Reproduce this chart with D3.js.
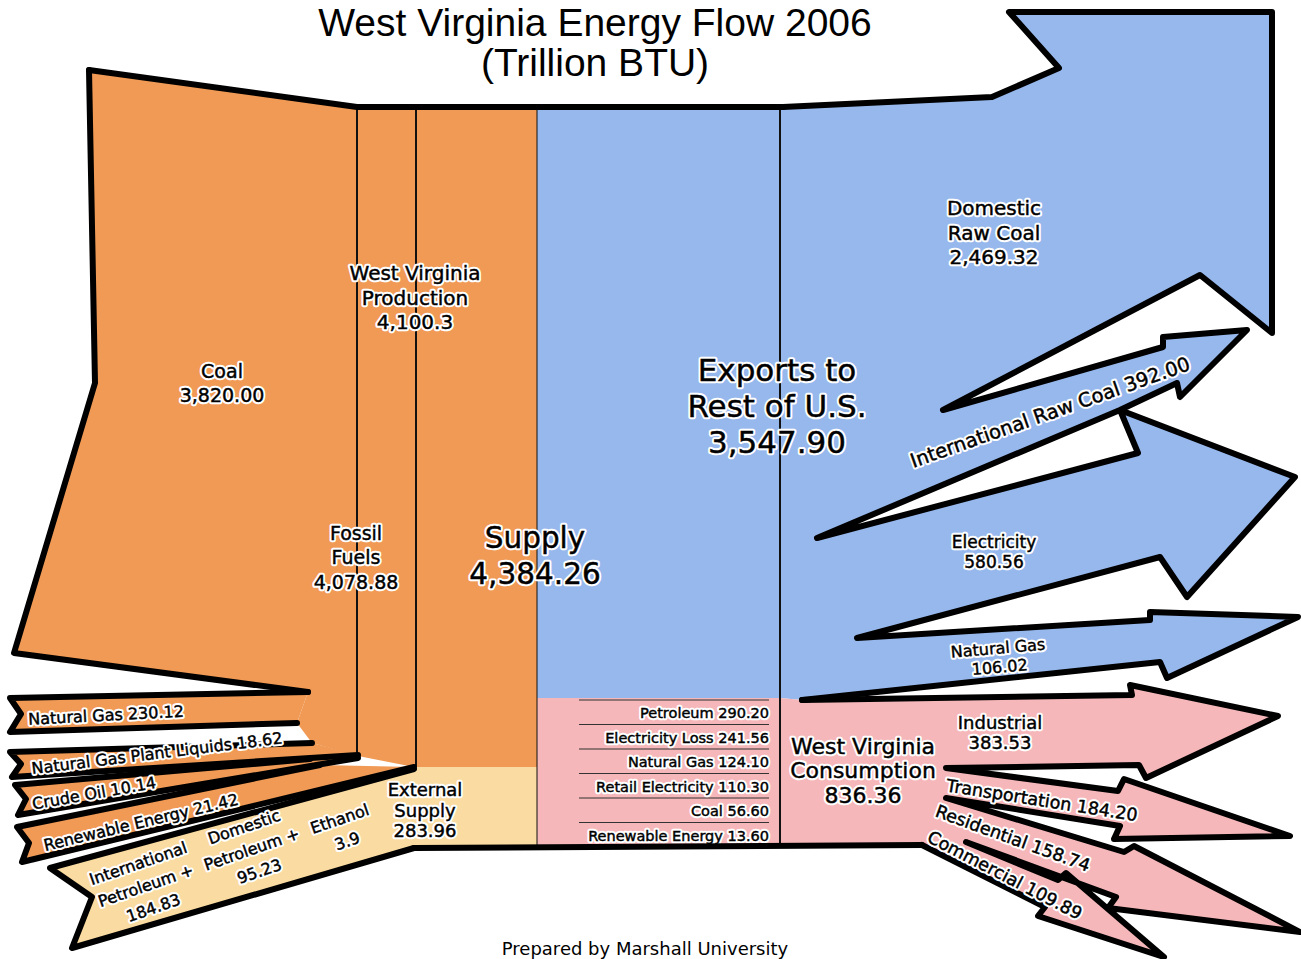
<!DOCTYPE html>
<html>
<head>
<meta charset="utf-8">
<script src="https://cdn.jsdelivr.net/npm/d3@7"></script>
<style>
  body { margin: 0; background: #fff; }
  .halo { font-family: "DejaVu Sans", sans-serif; fill: #fff; stroke: #fff; stroke-width: 4.5px;
          stroke-linejoin: round; }
  .lbl { font-family: "DejaVu Sans", sans-serif; fill: #000; stroke: #000; stroke-width: 0.45px; }
  .title { font-family: "Liberation Sans", Arial, sans-serif; font-size: 39px; fill: #000; }
</style>
</head>
<body>
<div id="chart"></div>
<script>
// ---- data (Trillion BTU) ----
const supplyNames = ['Coal', 'Natural Gas', 'Natural Gas Plant Liquids', 'Crude Oil', 'Renewable Energy']
const supplyValues = [3820.00, 230.12, 18.62, 10.14, 21.42]
const externalNames = [['International', 'Petroleum +'], ['Domestic', 'Petroleum +'], ['', 'Ethanol']]
const externalValues = [184.83, 95.23, 3.9]
const exportNames = ['Domestic Raw Coal', 'International Raw Coal', 'Electricity', 'Natural Gas']
const exportValues = [2469.32, 392.00, 580.56, 106.02]
const sourceNames = ['Petroleum', 'Electricity Loss', 'Natural Gas', 'Retail Electricity', 'Coal', 'Renewable Energy']
const sourceValues = [290.20, 241.56, 124.10, 110.30, 56.60, 13.60]
const sectorNames = ['Industrial', 'Transportation', 'Residential', 'Commercial']
const sectorValues = [383.53, 184.20, 158.74, 109.89]

const fossil = d3.sum(supplyValues.slice(0, 4))
const production = d3.sum(supplyValues)
const external = d3.sum(externalValues)
const supply = production + external
const exportsTotal = d3.sum(exportValues)
const consumption = d3.sum(sectorValues)

const f2 = d3.format(',.2f')
const fShort = d3.format(',.2~f')

const width = 1301, height = 959
const colors = {orange: '#f09a55', yellow: '#fadca2', blue: '#97b8ec', pink: '#f5b7b9'}

const svg = d3.select('#chart').append('svg')
  .attr('width', width).attr('height', height)

const line = d3.line()
const closed = d3.line().curve(d3.curveLinearClosed)

// ---- artwork outlines (hand drawn shapes of the original) ----
const coalLeft = [[89,70],[95,383],[14,653],[308,692]]
const bodyOrange = [[89,70],[357,107],[537,107],[537,767],[414,767],[358,756],[312,743],[297,723],[308,692],[14,653],[95,383]]
// tails: top-right, top-left, notch, bottom-left, bottom-right
const tails = [
  [[308,692],[10,698],[21,714],[10,732],[297,723]],
  [[312,743],[10,752],[21,764],[12,777],[358,755]],
  [[310,759],[15,785],[26,799],[18,815],[358,758]],
  [[320,765],[17,827],[29,843],[22,862],[414,767]],
]
const yellowTail = [[414,769],[50,868],[92,897],[72,948],[414,848]]
const blueEdge = [[783,107],[992,97],[1059,68],[1009,12],[1272,12],[1272,333],[1200,275],[943,410],
  [1163,347],[1163,337],[1247,330],[1180,397],[1177,383],[1120,410],[817,538],[1138,453],[1120,410],
  [1295,477],[1187,597],[1160,557],[857,638],[1150,620],[1150,612],[1298,617],[1167,678],[1160,662],[802,700]]
const pinkEdge = [[802,700],[1132,695],[1130,685],[1278,716],[1146,778],[1139,765],[946,768],
  [1118,791],[1124,779],[1290,836],[1114,839],[1120,826],[946,798],[1124,852],[1134,846],[1300,932],
  [1108,908],[1116,897],[966,842],[1058,880],[1066,873],[1164,957],[1038,916],[1045,907],[922,845]]

// fills
svg.append('path').attr('d', closed(bodyOrange)).attr('fill', colors.orange)
svg.selectAll('.tail').data(tails).enter().append('path')
  .attr('class', 'tail').attr('d', d => closed(d)).attr('fill', colors.orange)
svg.append('path').attr('d', closed(yellowTail)).attr('fill', colors.yellow)
svg.append('rect').attr('x', 414).attr('y', 767).attr('width', 123).attr('height', 78).attr('fill', colors.yellow)
svg.append('path').attr('d', closed([[537,107]].concat(blueEdge, [[780,698],[537,698]]))).attr('fill', colors.blue)
svg.append('path').attr('d', closed([[537,698],[780,698]].concat(pinkEdge, [[537,845]]))).attr('fill', colors.pink)

// thin divider lines
const dividers = [[357,107,357,756],[416,107,416,767],[537,107,537,845],[780,107,780,845]]
svg.selectAll('.div').data(dividers).enter().append('line')
  .attr('x1', d => d[0]).attr('y1', d => d[1]).attr('x2', d => d[2]).attr('y2', d => d[3])
  .attr('stroke', '#111').attr('stroke-width', d => d[0] === 537 ? 1 : 2)

// consumption by source rows
const rowY = d3.scaleBand().domain(sourceNames).range([698, 845])
svg.selectAll('.srcline').data(sourceNames).enter().append('line')
  .attr('x1', 579).attr('x2', 769)
  .attr('y1', d => rowY(d) + 2).attr('y2', d => rowY(d) + 2)
  .attr('stroke', '#333').attr('stroke-width', 1.2)

// halo text helper: white outline underneath, black text on top
function haloText(sel, fn) {
  ['halo', 'lbl'].forEach(cls => fn(sel.append('text').attr('class', cls)))
}

sourceNames.forEach((d, i) => haloText(svg, t => t
  .style('font-size', '14.5px').attr('x', 769).attr('y', rowY(d) + 20)
  .attr('text-anchor', 'end').text(d + ' ' + f2(sourceValues[i]))))

// thick outlines
const outlines = [coalLeft, [[89,70],[357,107],[783,107]], blueEdge, pinkEdge, [[922,845],[414,848]]]
  .concat(tails, [yellowTail])
svg.selectAll('.outline').data(outlines).enter().append('path')
  .attr('d', d => line(d)).attr('fill', 'none')
  .attr('stroke', '#000').attr('stroke-width', 6)
  .attr('stroke-linejoin', 'round').attr('stroke-linecap', 'round')

// ---- labels ----
const labels = [
  {lines: [supplyNames[0], f2(supplyValues[0])], x: 222, y: 371, lh: 24, size: 19},
  {lines: ['West Virginia', 'Production', fShort(production)], x: 415, y: 273, lh: 24.5, size: 20},
  {lines: ['Fossil', 'Fuels', f2(fossil)], x: 356, y: 533, lh: 24.5, size: 19},
  {lines: ['Supply', f2(supply)], x: 535, y: 537, lh: 36, size: 29.5},
  {lines: ['Exports to', 'Rest of U.S.', f2(exportsTotal)], x: 777, y: 370, lh: 36, size: 31},
  {lines: ['Domestic', 'Raw Coal', f2(exportValues[0])], x: 994, y: 208, lh: 24.5, size: 20},
  {lines: [exportNames[2], f2(exportValues[2])], x: 994, y: 542, lh: 20, size: 17},
  {lines: [exportNames[3], f2(exportValues[3])], x: 998, y: 648, lh: 19, size: 16, rot: -5},
  {lines: [sectorNames[0], f2(sectorValues[0])], x: 1000, y: 723, lh: 20, size: 18},
  {lines: ['West Virginia', 'Consumption', f2(consumption)], x: 863, y: 746, lh: 24.5, size: 22},
  {lines: ['External', 'Supply', f2(external)], x: 425, y: 790, lh: 20.5, size: 18},
  {lines: [exportNames[1] + ' ' + f2(exportValues[1])], x: 1050, y: 412, size: 19.5, rot: -19.5},
  {lines: [sectorNames[1] + ' ' + f2(sectorValues[1])], x: 1042, y: 800, size: 17.5, rot: 9},
  {lines: [sectorNames[2] + ' ' + f2(sectorValues[2])], x: 1013, y: 838, size: 17.5, rot: 20},
  {lines: [sectorNames[3] + ' ' + f2(sectorValues[3])], x: 1005, y: 875, size: 17.5, rot: 27.5},
  {lines: [supplyNames[1] + ' ' + f2(supplyValues[1])], x: 106, y: 715, size: 16, rot: -3},
  {lines: [supplyNames[2] + ' ' + f2(supplyValues[2])], x: 157, y: 753, size: 16, rot: -7},
  {lines: [supplyNames[3] + ' ' + f2(supplyValues[3])], x: 94, y: 793, size: 16, rot: -10},
  {lines: [supplyNames[4] + ' ' + f2(supplyValues[4])], x: 141, y: 822, size: 16, rot: -13.5},
]

labels.forEach(d => {
  const g = svg.append('g').attr('transform', `translate(${d.x},${d.y}) rotate(${d.rot || 0})`)
  d.lines.forEach((txt, i) => haloText(g, t => t
    .attr('text-anchor', 'middle').style('font-size', d.size + 'px')
    .attr('y', i * (d.lh || 0) + d.size * 0.36).text(txt)))
})

// external supply parts, a small rotated table
const extCols = [0, 112, 205]
const ext = svg.append('g').attr('transform', 'translate(138,863) rotate(-19)')
externalNames.forEach((nm, i) => {
  const rows = [nm[0], nm[1], fShort(externalValues[i])]
  rows.forEach((txt, j) => haloText(ext, t => t
    .attr('text-anchor', 'middle').style('font-size', '16px')
    .attr('x', extCols[i]).attr('y', j * 23.5 + 6).text(txt)))
})

// title and footer
svg.append('text').attr('class', 'title').attr('x', 595).attr('y', 36)
  .attr('text-anchor', 'middle').text('West Virginia Energy Flow 2006')
svg.append('text').attr('class', 'title').attr('x', 595).attr('y', 76)
  .attr('text-anchor', 'middle').text('(Trillion BTU)')
svg.append('text').attr('x', 645).attr('y', 955).attr('text-anchor', 'middle')
  .style('font-family', '"DejaVu Sans", sans-serif').style('font-size', '18px')
  .text('Prepared by Marshall University')
</script>
</body>
</html>
